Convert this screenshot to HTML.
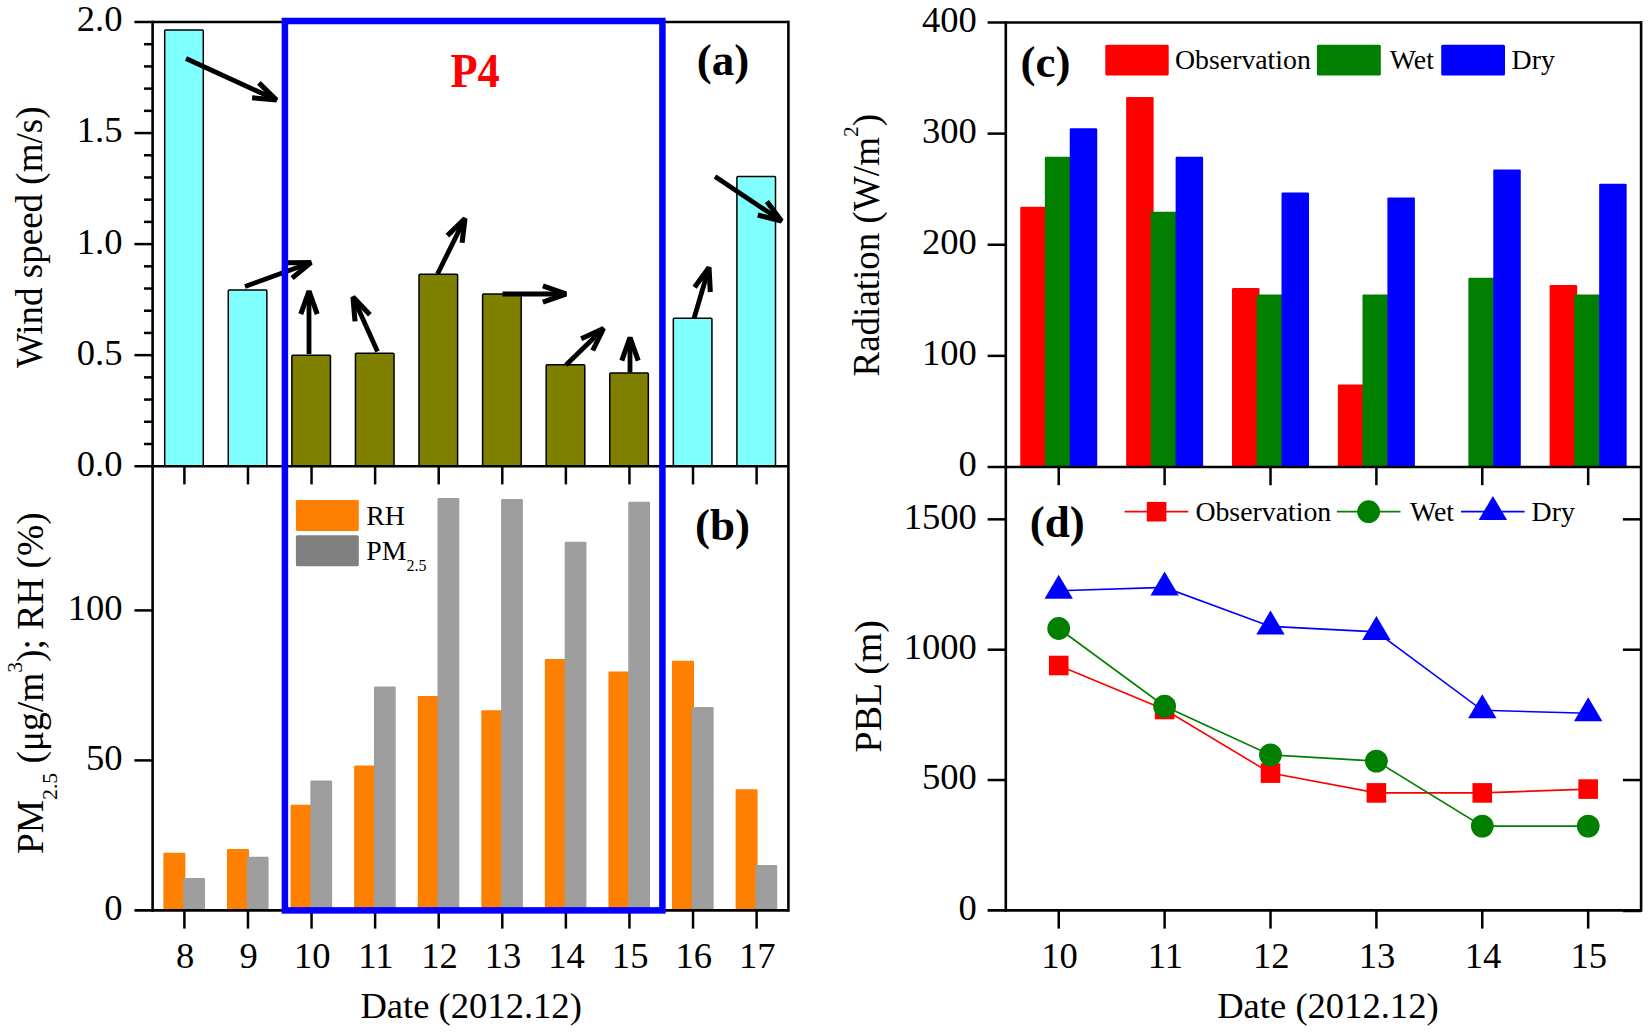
<!DOCTYPE html>
<html><head><meta charset="utf-8"><title>Figure</title>
<style>html,body{margin:0;padding:0;background:#fff;}svg{display:block}text{font-family:'Liberation Serif', 'Times New Roman', serif;}</style>
</head><body>
<svg width="1650" height="1033" viewBox="0 0 1650 1033">
<rect width="1650" height="1033" fill="#fff"/>
<rect x="164.69" y="30.00" width="38.60" height="436.20" fill="#80ffff" stroke="#000" stroke-width="1.5" rx="1"/>
<rect x="228.27" y="290.00" width="38.60" height="176.20" fill="#80ffff" stroke="#000" stroke-width="1.5" rx="1"/>
<rect x="291.85" y="355.20" width="38.60" height="111.00" fill="#808000" stroke="#000" stroke-width="1.5" rx="1"/>
<rect x="355.43" y="353.20" width="38.60" height="113.00" fill="#808000" stroke="#000" stroke-width="1.5" rx="1"/>
<rect x="419.01" y="274.30" width="38.60" height="191.90" fill="#808000" stroke="#000" stroke-width="1.5" rx="1"/>
<rect x="482.59" y="293.90" width="38.60" height="172.30" fill="#808000" stroke="#000" stroke-width="1.5" rx="1"/>
<rect x="546.17" y="364.80" width="38.60" height="101.40" fill="#808000" stroke="#000" stroke-width="1.5" rx="1"/>
<rect x="609.75" y="373.00" width="38.60" height="93.20" fill="#808000" stroke="#000" stroke-width="1.5" rx="1"/>
<rect x="673.33" y="318.30" width="38.60" height="147.90" fill="#80ffff" stroke="#000" stroke-width="1.5" rx="1"/>
<rect x="736.91" y="176.50" width="38.60" height="289.70" fill="#80ffff" stroke="#000" stroke-width="1.5" rx="1"/>
<rect x="163.39" y="852.80" width="22.00" height="57.60" fill="#ff7f00" rx="1.2"/>
<rect x="183.19" y="878.00" width="21.80" height="32.40" fill="#9e9e9e" rx="1.2"/>
<rect x="226.97" y="848.90" width="22.00" height="61.50" fill="#ff7f00" rx="1.2"/>
<rect x="246.77" y="856.70" width="21.80" height="53.70" fill="#9e9e9e" rx="1.2"/>
<rect x="290.55" y="804.80" width="22.00" height="105.60" fill="#ff7f00" rx="1.2"/>
<rect x="310.35" y="780.50" width="21.80" height="129.90" fill="#9e9e9e" rx="1.2"/>
<rect x="354.13" y="765.50" width="22.00" height="144.90" fill="#ff7f00" rx="1.2"/>
<rect x="373.93" y="686.60" width="21.80" height="223.80" fill="#9e9e9e" rx="1.2"/>
<rect x="417.71" y="695.90" width="22.00" height="214.50" fill="#ff7f00" rx="1.2"/>
<rect x="437.51" y="497.90" width="21.80" height="412.50" fill="#9e9e9e" rx="1.2"/>
<rect x="481.29" y="710.30" width="22.00" height="200.10" fill="#ff7f00" rx="1.2"/>
<rect x="501.09" y="499.10" width="21.80" height="411.30" fill="#9e9e9e" rx="1.2"/>
<rect x="544.87" y="659.00" width="22.00" height="251.40" fill="#ff7f00" rx="1.2"/>
<rect x="564.67" y="541.70" width="21.80" height="368.70" fill="#9e9e9e" rx="1.2"/>
<rect x="608.45" y="671.60" width="22.00" height="238.80" fill="#ff7f00" rx="1.2"/>
<rect x="628.25" y="501.80" width="21.80" height="408.60" fill="#9e9e9e" rx="1.2"/>
<rect x="672.03" y="660.80" width="22.00" height="249.60" fill="#ff7f00" rx="1.2"/>
<rect x="691.83" y="707.00" width="21.80" height="203.40" fill="#9e9e9e" rx="1.2"/>
<rect x="735.61" y="789.20" width="22.00" height="121.20" fill="#ff7f00" rx="1.2"/>
<rect x="755.41" y="865.10" width="21.80" height="45.30" fill="#9e9e9e" rx="1.2"/>
<rect x="295.90" y="500.00" width="62.90" height="30.90" fill="#ff7f00" rx="1.5"/>
<rect x="295.90" y="535.20" width="62.90" height="31.00" fill="#808080" rx="1.5"/>
<text transform="translate(366.30 524.70)" font-size="27.8" text-anchor="start">RH</text>
<text x="366.3" y="560.2" font-size="27.8">PM<tspan font-size="16" dy="10.4">2.5</tspan></text>
<line x1="152.60" y1="20.70" x2="152.60" y2="911.70" stroke="#000" stroke-width="2.6" stroke-linecap="butt"/>
<line x1="788.40" y1="20.70" x2="788.40" y2="911.70" stroke="#000" stroke-width="2.6" stroke-linecap="butt"/>
<line x1="134.40" y1="22.00" x2="788.40" y2="22.00" stroke="#000" stroke-width="2.6" stroke-linecap="butt"/>
<line x1="134.40" y1="466.20" x2="788.40" y2="466.20" stroke="#000" stroke-width="2.6" stroke-linecap="butt"/>
<line x1="134.40" y1="910.40" x2="788.40" y2="910.40" stroke="#000" stroke-width="2.6" stroke-linecap="butt"/>
<text transform="translate(122.50 475.60)" font-size="36.6" text-anchor="end">0.0</text>
<line x1="144.00" y1="443.99" x2="152.60" y2="443.99" stroke="#000" stroke-width="2.5" stroke-linecap="butt"/>
<line x1="144.00" y1="421.78" x2="152.60" y2="421.78" stroke="#000" stroke-width="2.5" stroke-linecap="butt"/>
<line x1="144.00" y1="399.57" x2="152.60" y2="399.57" stroke="#000" stroke-width="2.5" stroke-linecap="butt"/>
<line x1="144.00" y1="377.36" x2="152.60" y2="377.36" stroke="#000" stroke-width="2.5" stroke-linecap="butt"/>
<line x1="134.40" y1="355.15" x2="152.60" y2="355.15" stroke="#000" stroke-width="2.5" stroke-linecap="butt"/>
<text transform="translate(122.50 364.55)" font-size="36.6" text-anchor="end">0.5</text>
<line x1="144.00" y1="332.94" x2="152.60" y2="332.94" stroke="#000" stroke-width="2.5" stroke-linecap="butt"/>
<line x1="144.00" y1="310.73" x2="152.60" y2="310.73" stroke="#000" stroke-width="2.5" stroke-linecap="butt"/>
<line x1="144.00" y1="288.52" x2="152.60" y2="288.52" stroke="#000" stroke-width="2.5" stroke-linecap="butt"/>
<line x1="144.00" y1="266.31" x2="152.60" y2="266.31" stroke="#000" stroke-width="2.5" stroke-linecap="butt"/>
<line x1="134.40" y1="244.10" x2="152.60" y2="244.10" stroke="#000" stroke-width="2.5" stroke-linecap="butt"/>
<text transform="translate(122.50 253.50)" font-size="36.6" text-anchor="end">1.0</text>
<line x1="144.00" y1="221.89" x2="152.60" y2="221.89" stroke="#000" stroke-width="2.5" stroke-linecap="butt"/>
<line x1="144.00" y1="199.68" x2="152.60" y2="199.68" stroke="#000" stroke-width="2.5" stroke-linecap="butt"/>
<line x1="144.00" y1="177.47" x2="152.60" y2="177.47" stroke="#000" stroke-width="2.5" stroke-linecap="butt"/>
<line x1="144.00" y1="155.26" x2="152.60" y2="155.26" stroke="#000" stroke-width="2.5" stroke-linecap="butt"/>
<line x1="134.40" y1="133.05" x2="152.60" y2="133.05" stroke="#000" stroke-width="2.5" stroke-linecap="butt"/>
<text transform="translate(122.50 142.45)" font-size="36.6" text-anchor="end">1.5</text>
<line x1="144.00" y1="110.84" x2="152.60" y2="110.84" stroke="#000" stroke-width="2.5" stroke-linecap="butt"/>
<line x1="144.00" y1="88.63" x2="152.60" y2="88.63" stroke="#000" stroke-width="2.5" stroke-linecap="butt"/>
<line x1="144.00" y1="66.42" x2="152.60" y2="66.42" stroke="#000" stroke-width="2.5" stroke-linecap="butt"/>
<line x1="144.00" y1="44.21" x2="152.60" y2="44.21" stroke="#000" stroke-width="2.5" stroke-linecap="butt"/>
<text transform="translate(122.50 31.40)" font-size="36.6" text-anchor="end">2.0</text>
<line x1="184.39" y1="466.20" x2="184.39" y2="484.40" stroke="#000" stroke-width="2.5" stroke-linecap="butt"/>
<line x1="184.39" y1="910.40" x2="184.39" y2="928.60" stroke="#000" stroke-width="2.5" stroke-linecap="butt"/>
<text transform="translate(185.09 968.10)" font-size="36.6" text-anchor="middle">8</text>
<line x1="247.97" y1="466.20" x2="247.97" y2="484.40" stroke="#000" stroke-width="2.5" stroke-linecap="butt"/>
<line x1="247.97" y1="910.40" x2="247.97" y2="928.60" stroke="#000" stroke-width="2.5" stroke-linecap="butt"/>
<text transform="translate(248.67 968.10)" font-size="36.6" text-anchor="middle">9</text>
<line x1="311.55" y1="466.20" x2="311.55" y2="484.40" stroke="#000" stroke-width="2.5" stroke-linecap="butt"/>
<line x1="311.55" y1="910.40" x2="311.55" y2="928.60" stroke="#000" stroke-width="2.5" stroke-linecap="butt"/>
<text transform="translate(312.25 968.10)" font-size="36.6" text-anchor="middle">10</text>
<line x1="375.13" y1="466.20" x2="375.13" y2="484.40" stroke="#000" stroke-width="2.5" stroke-linecap="butt"/>
<line x1="375.13" y1="910.40" x2="375.13" y2="928.60" stroke="#000" stroke-width="2.5" stroke-linecap="butt"/>
<text transform="translate(375.83 968.10)" font-size="36.6" text-anchor="middle">11</text>
<line x1="438.71" y1="466.20" x2="438.71" y2="484.40" stroke="#000" stroke-width="2.5" stroke-linecap="butt"/>
<line x1="438.71" y1="910.40" x2="438.71" y2="928.60" stroke="#000" stroke-width="2.5" stroke-linecap="butt"/>
<text transform="translate(439.41 968.10)" font-size="36.6" text-anchor="middle">12</text>
<line x1="502.29" y1="466.20" x2="502.29" y2="484.40" stroke="#000" stroke-width="2.5" stroke-linecap="butt"/>
<line x1="502.29" y1="910.40" x2="502.29" y2="928.60" stroke="#000" stroke-width="2.5" stroke-linecap="butt"/>
<text transform="translate(502.99 968.10)" font-size="36.6" text-anchor="middle">13</text>
<line x1="565.87" y1="466.20" x2="565.87" y2="484.40" stroke="#000" stroke-width="2.5" stroke-linecap="butt"/>
<line x1="565.87" y1="910.40" x2="565.87" y2="928.60" stroke="#000" stroke-width="2.5" stroke-linecap="butt"/>
<text transform="translate(566.57 968.10)" font-size="36.6" text-anchor="middle">14</text>
<line x1="629.45" y1="466.20" x2="629.45" y2="484.40" stroke="#000" stroke-width="2.5" stroke-linecap="butt"/>
<line x1="629.45" y1="910.40" x2="629.45" y2="928.60" stroke="#000" stroke-width="2.5" stroke-linecap="butt"/>
<text transform="translate(630.15 968.10)" font-size="36.6" text-anchor="middle">15</text>
<line x1="693.03" y1="466.20" x2="693.03" y2="484.40" stroke="#000" stroke-width="2.5" stroke-linecap="butt"/>
<line x1="693.03" y1="910.40" x2="693.03" y2="928.60" stroke="#000" stroke-width="2.5" stroke-linecap="butt"/>
<text transform="translate(693.73 968.10)" font-size="36.6" text-anchor="middle">16</text>
<line x1="756.61" y1="466.20" x2="756.61" y2="484.40" stroke="#000" stroke-width="2.5" stroke-linecap="butt"/>
<line x1="756.61" y1="910.40" x2="756.61" y2="928.60" stroke="#000" stroke-width="2.5" stroke-linecap="butt"/>
<text transform="translate(757.31 968.10)" font-size="36.6" text-anchor="middle">17</text>
<text transform="translate(122.50 919.80)" font-size="36.6" text-anchor="end">0</text>
<line x1="134.40" y1="760.40" x2="152.60" y2="760.40" stroke="#000" stroke-width="2.5" stroke-linecap="butt"/>
<text transform="translate(122.50 769.80)" font-size="36.6" text-anchor="end">50</text>
<line x1="134.40" y1="610.40" x2="152.60" y2="610.40" stroke="#000" stroke-width="2.5" stroke-linecap="butt"/>
<text transform="translate(122.50 619.80)" font-size="36.6" text-anchor="end">100</text>
<path d="M186.0 58.5L276.5 100.0" fill="none" stroke="#000" stroke-width="4.8"/>
<path d="M258.9 82.9L276.5 100.0L252.1 97.8" fill="none" stroke="#000" stroke-width="5.1" stroke-linejoin="bevel"/>
<path d="M245.0 286.5L311.0 262.5" fill="none" stroke="#000" stroke-width="4.8"/>
<path d="M286.5 262.7L311.0 262.5L292.1 278.1" fill="none" stroke="#000" stroke-width="5.1" stroke-linejoin="bevel"/>
<path d="M309.0 354.0L309.0 291.0" fill="none" stroke="#000" stroke-width="4.8"/>
<path d="M300.8 314.1L309.0 291.0L317.2 314.1" fill="none" stroke="#000" stroke-width="5.1" stroke-linejoin="bevel"/>
<path d="M377.5 351.5L353.0 297.0" fill="none" stroke="#000" stroke-width="4.8"/>
<path d="M355.0 321.4L353.0 297.0L369.9 314.7" fill="none" stroke="#000" stroke-width="5.1" stroke-linejoin="bevel"/>
<path d="M437.5 274.0L465.0 218.5" fill="none" stroke="#000" stroke-width="4.8"/>
<path d="M447.4 235.6L465.0 218.5L462.1 242.8" fill="none" stroke="#000" stroke-width="5.1" stroke-linejoin="bevel"/>
<path d="M502.5 294.0L566.0 294.0" fill="none" stroke="#000" stroke-width="4.8"/>
<path d="M542.9 285.8L566.0 294.0L542.9 302.2" fill="none" stroke="#000" stroke-width="5.1" stroke-linejoin="bevel"/>
<path d="M566.0 365.0L603.5 328.5" fill="none" stroke="#000" stroke-width="4.8"/>
<path d="M581.2 338.7L603.5 328.5L592.7 350.5" fill="none" stroke="#000" stroke-width="5.1" stroke-linejoin="bevel"/>
<path d="M630.0 372.5L630.0 337.5" fill="none" stroke="#000" stroke-width="4.8"/>
<path d="M621.8 360.6L630.0 337.5L638.2 360.6" fill="none" stroke="#000" stroke-width="5.1" stroke-linejoin="bevel"/>
<path d="M694.0 318.5L709.0 267.5" fill="none" stroke="#000" stroke-width="4.8"/>
<path d="M694.6 287.3L709.0 267.5L710.3 292.0" fill="none" stroke="#000" stroke-width="5.1" stroke-linejoin="bevel"/>
<path d="M715.0 176.5L781.5 221.0" fill="none" stroke="#000" stroke-width="4.8"/>
<path d="M766.9 201.4L781.5 221.0L757.8 215.0" fill="none" stroke="#000" stroke-width="5.1" stroke-linejoin="bevel"/>
<rect x="284.9" y="21" width="377.5" height="889.4" fill="none" stroke="#0000ff" stroke-width="6.5"/>
<text transform="translate(450.40 87.40) scale(0.935 1)" font-size="47.5" text-anchor="start" font-weight="bold" fill="#ff0000">P4</text>
<text transform="translate(696.70 75.40)" font-size="45" text-anchor="start" font-weight="bold">(a)</text>
<text transform="translate(695.00 540.40)" font-size="45" text-anchor="start" font-weight="bold">(b)</text>
<text transform="translate(41.80 368.10) rotate(-90)" font-size="37" text-anchor="start">Wind speed (m/s)</text>
<text transform="translate(43.4 854) rotate(-90) scale(1.011 1)" font-size="37">PM<tspan font-size="21.5" dy="14">2.5</tspan><tspan dy="-14"> (μg/m</tspan><tspan font-size="21.5" dy="-21">3</tspan><tspan dy="21">); RH (%)</tspan></text>
<text transform="translate(360.40 1017.70)" font-size="36.6" text-anchor="start">Date (2012.12)</text>
<rect x="1020.24" y="206.86" width="27.50" height="260.14" fill="#ff0000" rx="1.2"/>
<rect x="1044.84" y="156.85" width="27.50" height="310.15" fill="#007f00" rx="1.2"/>
<rect x="1069.74" y="128.18" width="27.50" height="338.82" fill="#0000ff" rx="1.2"/>
<rect x="1126.12" y="96.95" width="27.50" height="370.05" fill="#ff0000" rx="1.2"/>
<rect x="1150.72" y="211.63" width="27.50" height="255.37" fill="#007f00" rx="1.2"/>
<rect x="1175.62" y="156.85" width="27.50" height="310.15" fill="#0000ff" rx="1.2"/>
<rect x="1232.01" y="288.09" width="27.50" height="178.91" fill="#ff0000" rx="1.2"/>
<rect x="1256.61" y="294.42" width="27.50" height="172.58" fill="#007f00" rx="1.2"/>
<rect x="1281.51" y="192.41" width="27.50" height="274.59" fill="#0000ff" rx="1.2"/>
<rect x="1337.89" y="384.55" width="27.50" height="82.45" fill="#ff0000" rx="1.2"/>
<rect x="1362.49" y="294.42" width="27.50" height="172.58" fill="#007f00" rx="1.2"/>
<rect x="1387.39" y="197.41" width="27.50" height="269.59" fill="#0000ff" rx="1.2"/>
<rect x="1468.37" y="277.64" width="27.50" height="189.36" fill="#007f00" rx="1.2"/>
<rect x="1493.27" y="169.41" width="27.50" height="297.59" fill="#0000ff" rx="1.2"/>
<rect x="1549.66" y="285.09" width="27.50" height="181.91" fill="#ff0000" rx="1.2"/>
<rect x="1574.26" y="294.42" width="27.50" height="172.58" fill="#007f00" rx="1.2"/>
<rect x="1599.16" y="183.63" width="27.50" height="283.37" fill="#0000ff" rx="1.2"/>
<rect x="1105.30" y="44.70" width="63.40" height="30.80" fill="#ff0000" rx="1.5"/>
<rect x="1316.90" y="44.70" width="63.90" height="30.80" fill="#007f00" rx="1.5"/>
<rect x="1441.20" y="44.70" width="63.80" height="30.80" fill="#0000ff" rx="1.5"/>
<text transform="translate(1175.00 68.50)" font-size="27.8" text-anchor="start">Observation</text>
<text transform="translate(1389.80 68.50)" font-size="27.8" text-anchor="start">Wet</text>
<text transform="translate(1511.60 68.50)" font-size="27.8" text-anchor="start">Dry</text>
<line x1="1005.80" y1="21.20" x2="1005.80" y2="911.70" stroke="#000" stroke-width="2.6" stroke-linecap="butt"/>
<line x1="1641.10" y1="21.20" x2="1641.10" y2="911.70" stroke="#000" stroke-width="2.6" stroke-linecap="butt"/>
<line x1="987.60" y1="22.50" x2="1641.10" y2="22.50" stroke="#000" stroke-width="2.6" stroke-linecap="butt"/>
<line x1="987.60" y1="467.00" x2="1641.10" y2="467.00" stroke="#000" stroke-width="2.6" stroke-linecap="butt"/>
<line x1="987.60" y1="910.40" x2="1641.10" y2="910.40" stroke="#000" stroke-width="2.6" stroke-linecap="butt"/>
<text transform="translate(976.90 476.40)" font-size="36.6" text-anchor="end">0</text>
<line x1="987.60" y1="355.88" x2="1005.80" y2="355.88" stroke="#000" stroke-width="2.5" stroke-linecap="butt"/>
<text transform="translate(976.90 365.27)" font-size="36.6" text-anchor="end">100</text>
<line x1="987.60" y1="244.75" x2="1005.80" y2="244.75" stroke="#000" stroke-width="2.5" stroke-linecap="butt"/>
<text transform="translate(976.90 254.15)" font-size="36.6" text-anchor="end">200</text>
<line x1="987.60" y1="133.62" x2="1005.80" y2="133.62" stroke="#000" stroke-width="2.5" stroke-linecap="butt"/>
<text transform="translate(976.90 143.03)" font-size="36.6" text-anchor="end">300</text>
<text transform="translate(976.90 31.90)" font-size="36.6" text-anchor="end">400</text>
<line x1="1058.74" y1="467.00" x2="1058.74" y2="485.20" stroke="#000" stroke-width="2.5" stroke-linecap="butt"/>
<line x1="1058.74" y1="910.40" x2="1058.74" y2="928.60" stroke="#000" stroke-width="2.5" stroke-linecap="butt"/>
<text transform="translate(1059.44 968.10)" font-size="36.6" text-anchor="middle">10</text>
<line x1="1164.62" y1="467.00" x2="1164.62" y2="485.20" stroke="#000" stroke-width="2.5" stroke-linecap="butt"/>
<line x1="1164.62" y1="910.40" x2="1164.62" y2="928.60" stroke="#000" stroke-width="2.5" stroke-linecap="butt"/>
<text transform="translate(1165.33 968.10)" font-size="36.6" text-anchor="middle">11</text>
<line x1="1270.51" y1="467.00" x2="1270.51" y2="485.20" stroke="#000" stroke-width="2.5" stroke-linecap="butt"/>
<line x1="1270.51" y1="910.40" x2="1270.51" y2="928.60" stroke="#000" stroke-width="2.5" stroke-linecap="butt"/>
<text transform="translate(1271.21 968.10)" font-size="36.6" text-anchor="middle">12</text>
<line x1="1376.39" y1="467.00" x2="1376.39" y2="485.20" stroke="#000" stroke-width="2.5" stroke-linecap="butt"/>
<line x1="1376.39" y1="910.40" x2="1376.39" y2="928.60" stroke="#000" stroke-width="2.5" stroke-linecap="butt"/>
<text transform="translate(1377.09 968.10)" font-size="36.6" text-anchor="middle">13</text>
<line x1="1482.27" y1="467.00" x2="1482.27" y2="485.20" stroke="#000" stroke-width="2.5" stroke-linecap="butt"/>
<line x1="1482.27" y1="910.40" x2="1482.27" y2="928.60" stroke="#000" stroke-width="2.5" stroke-linecap="butt"/>
<text transform="translate(1482.97 968.10)" font-size="36.6" text-anchor="middle">14</text>
<line x1="1588.16" y1="467.00" x2="1588.16" y2="485.20" stroke="#000" stroke-width="2.5" stroke-linecap="butt"/>
<line x1="1588.16" y1="910.40" x2="1588.16" y2="928.60" stroke="#000" stroke-width="2.5" stroke-linecap="butt"/>
<text transform="translate(1588.86 968.10)" font-size="36.6" text-anchor="middle">15</text>
<line x1="1622.90" y1="911.00" x2="1641.10" y2="911.00" stroke="#000" stroke-width="2.5" stroke-linecap="butt"/>
<text transform="translate(976.90 919.80)" font-size="36.6" text-anchor="end">0</text>
<line x1="987.60" y1="780.05" x2="1005.80" y2="780.05" stroke="#000" stroke-width="2.5" stroke-linecap="butt"/>
<line x1="1622.90" y1="780.05" x2="1641.10" y2="780.05" stroke="#000" stroke-width="2.5" stroke-linecap="butt"/>
<text transform="translate(976.90 789.45)" font-size="36.6" text-anchor="end">500</text>
<line x1="987.60" y1="649.70" x2="1005.80" y2="649.70" stroke="#000" stroke-width="2.5" stroke-linecap="butt"/>
<line x1="1622.90" y1="649.70" x2="1641.10" y2="649.70" stroke="#000" stroke-width="2.5" stroke-linecap="butt"/>
<text transform="translate(976.90 659.10)" font-size="36.6" text-anchor="end">1000</text>
<line x1="987.60" y1="519.35" x2="1005.80" y2="519.35" stroke="#000" stroke-width="2.5" stroke-linecap="butt"/>
<line x1="1622.90" y1="519.35" x2="1641.10" y2="519.35" stroke="#000" stroke-width="2.5" stroke-linecap="butt"/>
<text transform="translate(976.90 528.75)" font-size="36.6" text-anchor="end">1500</text>
<text transform="translate(1020.50 76.60)" font-size="45" text-anchor="start" font-weight="bold">(c)</text>
<text transform="translate(1029.80 537.30)" font-size="45" text-anchor="start" font-weight="bold">(d)</text>
<text transform="translate(879.2 376.5) rotate(-90)" font-size="37">Radiation (W/m<tspan font-size="21.5" dy="-21">2</tspan><tspan dy="21">)</tspan></text>
<text transform="translate(881.00 752.40) rotate(-90) scale(1.024 1)" font-size="37" text-anchor="start">PBL (m)</text>
<text transform="translate(1217.20 1017.70)" font-size="36.6" text-anchor="start">Date (2012.12)</text>
<polyline fill="none" stroke="#ff0000" stroke-width="1.6" points="1058.7,665.5 1164.6,709.5 1270.5,773.1 1376.4,792.9 1482.3,792.9 1588.2,789.1"/>
<rect x="1048.94" y="655.70" width="19.60" height="19.60" fill="#ff0000"/>
<rect x="1154.83" y="699.70" width="19.60" height="19.60" fill="#ff0000"/>
<rect x="1260.71" y="763.30" width="19.60" height="19.60" fill="#ff0000"/>
<rect x="1366.59" y="783.10" width="19.60" height="19.60" fill="#ff0000"/>
<rect x="1472.47" y="783.10" width="19.60" height="19.60" fill="#ff0000"/>
<rect x="1578.36" y="779.30" width="19.60" height="19.60" fill="#ff0000"/>
<polyline fill="none" stroke="#007f00" stroke-width="1.6" points="1058.7,628.5 1164.6,706.2 1270.5,754.9 1376.4,761.1 1482.3,826.1 1588.2,826.1"/>
<circle cx="1058.7" cy="628.5" r="11.4" fill="#007f00"/>
<circle cx="1164.6" cy="706.2" r="11.4" fill="#007f00"/>
<circle cx="1270.5" cy="754.9" r="11.4" fill="#007f00"/>
<circle cx="1376.4" cy="761.1" r="11.4" fill="#007f00"/>
<circle cx="1482.3" cy="826.1" r="11.4" fill="#007f00"/>
<circle cx="1588.2" cy="826.1" r="11.4" fill="#007f00"/>
<polyline fill="none" stroke="#0000ff" stroke-width="1.6" points="1058.7,590.8 1164.6,587.4 1270.5,626.4 1376.4,631.9 1482.3,710.3 1588.2,713.3"/>
<polygon points="1044.5,598.8 1072.9,598.8 1058.7,574.8" fill="#0000ff"/>
<polygon points="1150.4,595.4 1178.8,595.4 1164.6,571.4" fill="#0000ff"/>
<polygon points="1256.3,634.4 1284.7,634.4 1270.5,610.4" fill="#0000ff"/>
<polygon points="1362.2,639.9 1390.6,639.9 1376.4,615.9" fill="#0000ff"/>
<polygon points="1468.1,718.3 1496.5,718.3 1482.3,694.3" fill="#0000ff"/>
<polygon points="1574.0,721.3 1602.4,721.3 1588.2,697.3" fill="#0000ff"/>
<line x1="1124.60" y1="511.70" x2="1188.30" y2="511.70" stroke="#ff0000" stroke-width="1.7" stroke-linecap="butt"/>
<rect x="1146.80" y="501.90" width="19.60" height="19.60" fill="#ff0000"/>
<line x1="1336.90" y1="511.70" x2="1400.50" y2="511.70" stroke="#007f00" stroke-width="1.7" stroke-linecap="butt"/>
<circle cx="1368.6" cy="511.7" r="11.4" fill="#007f00"/>
<line x1="1461.00" y1="511.70" x2="1524.60" y2="511.70" stroke="#0000ff" stroke-width="1.7" stroke-linecap="butt"/>
<polygon points="1478.7,519.9 1507.1,519.9 1492.9,495.9" fill="#0000ff"/>
<text transform="translate(1195.40 520.70)" font-size="27.8" text-anchor="start">Observation</text>
<text transform="translate(1410.00 520.70)" font-size="27.8" text-anchor="start">Wet</text>
<text transform="translate(1531.60 520.70)" font-size="27.8" text-anchor="start">Dry</text>
</svg>
</body></html>
